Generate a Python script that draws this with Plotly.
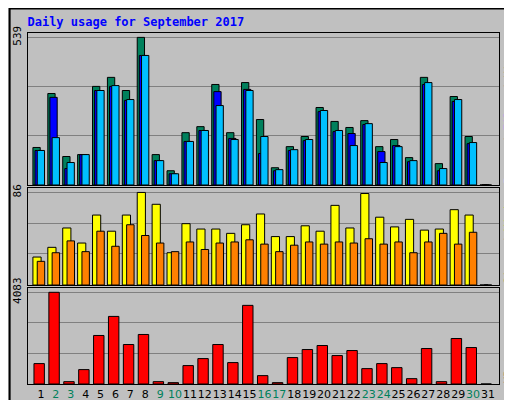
import plotly.graph_objects as go

days = list(range(1, 32))
weekend = [2, 3, 9, 10, 16, 17, 23, 24, 30]

hits = [137, 334, 104, 111, 360, 393, 345, 539, 111, 52, 191, 213, 367, 191, 374,
        239, 63, 140, 177, 283, 232, 210, 235, 140, 166, 100, 393, 78, 323, 177, 0]
files = [126, 320, 60, 111, 345, 360, 309, 473, 89, 41, 159, 199, 341, 170, 349,
         115, 52, 126, 162, 268, 195, 188, 221, 122, 144, 85, 367, 52, 305, 151, 0]
pages = [126, 173, 82, 111, 345, 363, 312, 473, 89, 41, 159, 199, 290, 166, 345,
         177, 56, 129, 166, 272, 199, 144, 224, 82, 140, 89, 374, 60, 312, 155, 0]
visits = [26, 35, 53, 39, 65, 50, 65, 86, 75, 30, 57, 52, 52, 48, 56,
          66, 45, 45, 55, 50, 74, 53, 85, 63, 54, 61, 51, 52, 70, 65, 0]
sites = [22, 30, 41, 31, 50, 36, 56, 46, 39, 31, 40, 33, 39, 40, 42,
         38, 31, 37, 40, 38, 40, 39, 43, 38, 40, 30, 40, 48, 38, 49, 0]
kbytes = [909, 4083, 104, 641, 2161, 3010, 1758, 2205, 104, 60, 820, 1132, 1758, 954, 3502,
          373, 60, 1177, 1535, 1714, 1267, 1490, 685, 909, 730, 238, 1580, 104, 2026, 1624, 0]

tick_text = ["<span style='color:#00805C'>%d</span>" % d if d in weekend else str(d) for d in days]

fig = go.Figure()
line = dict(color="black", width=1)

def bars(y, color, name, axis, offset, width):
    fig.add_bar(x=days, y=y, name=name, marker=dict(color=color, line=line),
                offset=offset, width=width, xaxis="x" + axis, yaxis="y" + axis)

bars(hits, "#00805C", "Hits", "", -0.54, 0.49)
bars(files, "#0000FF", "Files", "", -0.40, 0.49)
bars(pages, "#00C0FF", "Pages", "", -0.25, 0.49)
bars(visits, "#FFFF00", "Visits", "2", -0.54, 0.55)
bars(sites, "#FF8000", "Sites", "2", -0.25, 0.5)
bars(kbytes, "#FF0000", "KBytes", "3", -0.47, 0.70)

xcommon = dict(range=[0.13, 31.74], showgrid=False, zeroline=False, showline=True,
               linecolor="black", mirror=True, tickvals=days, ticks="", automargin=False,
               tickangle=0)
ycommon = dict(showgrid=True, gridcolor="#808080", gridwidth=1, zeroline=False, showline=True,
               linecolor="black", mirror=True, ticks="", tickangle=-90, automargin=False,
               ticklabelstandoff=2,
               tickfont=dict(family="DejaVu Sans Mono", size=11, color="black"))

fig.update_layout(
    width=512, height=400, showlegend=False, barmode="overlay",
    paper_bgcolor="#C0C0C0", plot_bgcolor="#C0C0C0",
    margin=dict(l=20, r=21, t=25, b=24),
    font=dict(family="DejaVu Sans Mono", size=11),
    xaxis=dict(xcommon, anchor="y", showticklabels=False),
    xaxis2=dict(xcommon, anchor="y2", showticklabels=False),
    xaxis3=dict(xcommon, anchor="y3", ticktext=tick_text,
                tickfont=dict(family="DejaVu Sans", size=11, color="black")),
    yaxis=dict(ycommon, domain=[0.567, 1], range=[0, 555],
               tickvals=[180, 359, 539], ticktext=["", "", "539"]),
    yaxis2=dict(ycommon, domain=[0.282, 0.558], range=[0, 90],
                tickvals=[29, 57, 86], ticktext=["", "", "86"]),
    yaxis3=dict(ycommon, domain=[0, 0.2735], range=[0, 4275],
                tickvals=[1361, 2722, 4083], ticktext=["", "", "4083"]),
    title=dict(text="<b>Daily usage for September 2017</b>", x=0.038, y=0.975,
               xanchor="left", font=dict(family="DejaVu Sans Mono", size=12, color="#0000FF")),
)

side = dict(family="DejaVu Sans Mono", size=11)
fig.add_annotation(x=1.004, y=0.567, xref="paper", yref="paper", xanchor="left", yanchor="bottom",
                   textangle=-90, showarrow=False, font=side, borderpad=0,
                   text="<span style='color:#00C0FF'>Pages</span> / <span style='color:#0000FF'>Files</span> / <span style='color:#00805C'>Hits</span>")
fig.add_annotation(x=1.004, y=0.282, xref="paper", yref="paper", xanchor="left", yanchor="bottom",
                   textangle=-90, showarrow=False, font=side, borderpad=0,
                   text="<span style='color:#FF8000'>Sites</span> / <span style='color:#FFFF00'>Visits</span>")
fig.add_annotation(x=1.004, y=0, xref="paper", yref="paper", xanchor="left", yanchor="bottom",
                   textangle=-90, showarrow=False, font=side, borderpad=0,
                   text="<span style='color:#FF0000'>KBytes</span>")
fig.add_shape(type="rect", xref="paper", yref="paper", x0=-0.039, x1=1.039, y0=-0.068, y1=1.07,
              line=dict(color="black", width=2))

fig.write_html("out.html")
